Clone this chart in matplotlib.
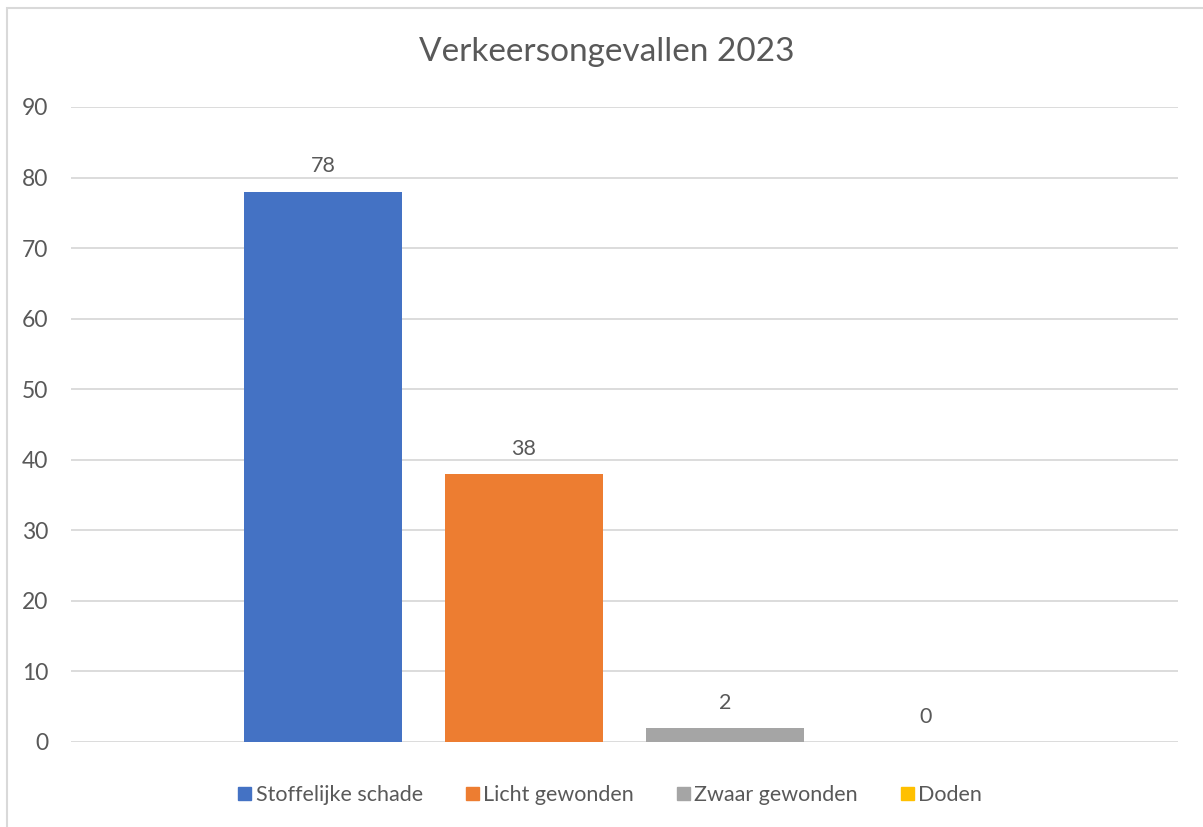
import matplotlib
matplotlib.use("Agg")
import matplotlib.pyplot as plt
from matplotlib.patches import Rectangle

categories = ["Stoffelijke schade", "Licht gewonden", "Zwaar gewonden", "Doden"]
values = [78, 38, 2, 0]
colors = ["#4472C4", "#ED7D31", "#A5A5A5", "#FFC000"]
yticks = [0, 10, 20, 30, 40, 50, 60, 70, 80, 90]
title = "Verkeersongevallen 2023"

plt.rcParams['font.family'] = ['Lato', 'DejaVu Sans']
txt = "#595959"

W, H = 1203, 827
fig = plt.figure(figsize=(W/100, H/100), dpi=100)
fig.patches.append(Rectangle((7/W, -0.1), 1.2, 1.1 - 8/H, transform=fig.transFigure,
                             fill=False, edgecolor="#D9D9D9", linewidth=1.5))

ax = fig.add_axes([71/W, 1 - 742/H, (1178-71)/W, (742-107)/H])
xs = list(range(len(categories)))
bars = ax.bar(xs, values, width=0.786, color=colors, label=categories, zorder=3)
ax.set_xlim(-1.254, 4.254)
ax.set_ylim(0, 90)
ax.set_yticks(yticks)
ax.set_xticks([])
ax.grid(axis='y', color="#D9D9D9", linewidth=1.3, zorder=0)
for s in ax.spines.values():
    s.set_visible(False)
ax.tick_params(axis='y', length=0, pad=16.5, labelsize=16.5, labelcolor=txt)

for x, v in zip(xs, values):
    ax.annotate(str(v), (x, v), xytext=(0, 11), textcoords='offset points',
                ha='center', va='bottom', fontsize=15.5, color=txt)

fig.text(607/W, 1 - 52/H, title, ha='center', va='center', fontsize=24, color=txt)

handles = [Rectangle((0, 0), 1, 1, color=c) for c in colors]
leg = fig.legend(handles, categories, loc='center', bbox_to_anchor=(610/W, 1 - 795/H),
                 ncol=4, frameon=False, fontsize=15.5, handlelength=0.6, handleheight=0.6,
                 handletextpad=0.2, columnspacing=2.0, labelcolor=txt)

fig.savefig("out.png", dpi=100, facecolor="white")
